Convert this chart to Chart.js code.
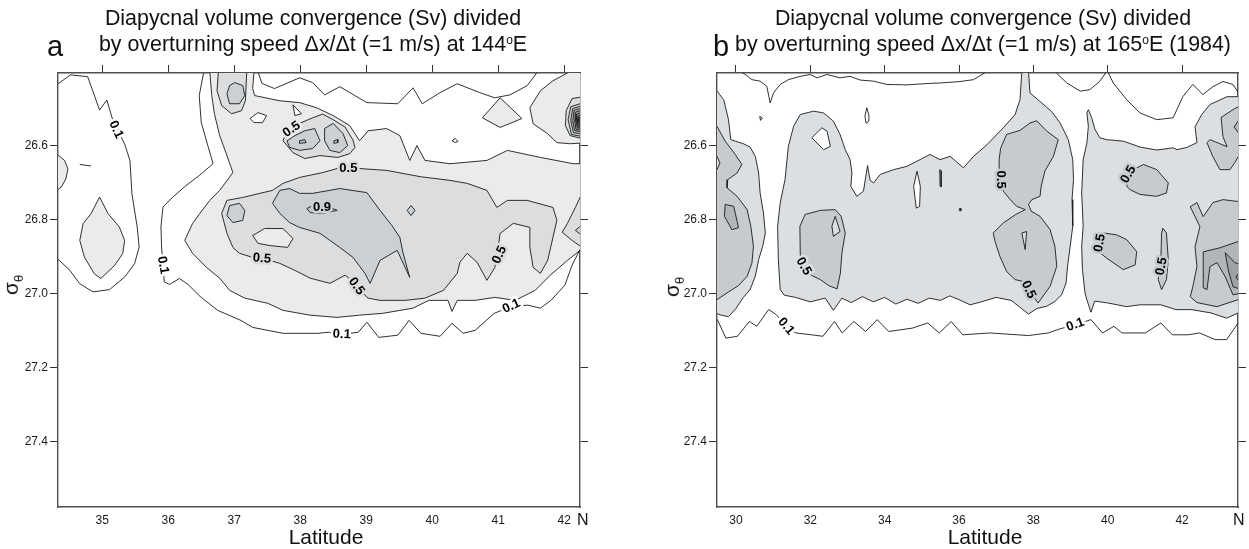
<!DOCTYPE html>
<html>
<head>
<meta charset="utf-8">
<script src="https://cdn.jsdelivr.net/npm/chart.js@4.4.1/dist/chart.umd.min.js"></script>
<style>
  body { margin: 0; width: 1249px; height: 549px; position: relative; overflow: hidden; background: #fff;
         font-family: "Liberation Sans", Arial, sans-serif; color: #111; }
  canvas { position: absolute; top: 0; }
  #chartA { left: 0; }
  #chartB { left: 640px; }
  .title { position: absolute; top: 5px; font-size: 21.4px; line-height: 26px; text-align: center; white-space: nowrap; }
  .title sup { font-size: 12px; vertical-align: 7px; line-height: 0; }
  .panel { position: absolute; top: 29px; font-size: 29px; line-height: 34px; }
  .xlab { position: absolute; top: 524px; width: 200px; text-align: center; font-size: 21px; line-height: 26px; }
  .north { position: absolute; top: 510px; font-size: 16px; line-height: 20px; }
  .ylab { position: absolute; font-size: 21px; line-height: 24px; transform: translate(-50%, -50%) rotate(-90deg); white-space: nowrap; }
  .ylab sub { font-size: 13px; }
</style>
</head>
<body>
<canvas id="chartA" width="624" height="549"></canvas>
<canvas id="chartB" width="609" height="549"></canvas>

<div class="title" style="left:33px;width:560px">Diapycnal volume convergence (Sv) divided<br>by overturning speed &Delta;x/&Delta;t (=1 m/s) at 144<sup>o</sup>E</div>
<div class="title" style="left:693px;width:580px">Diapycnal volume convergence (Sv) divided<br>by overturning speed &Delta;x/&Delta;t (=1 m/s) at 165<sup>o</sup>E (1984)</div>
<div class="panel" style="left:47px">a</div>
<div class="panel" style="left:713px">b</div>
<div class="xlab" style="left:226px">Latitude</div>
<div class="xlab" style="left:885px">Latitude</div>
<div class="north" style="left:577px">N</div>
<div class="north" style="left:1233px">N</div>
<div class="ylab" style="left:15px;top:285px">&sigma;<sub>&theta;</sub></div>
<div class="ylab" style="left:676px;top:287px">&sigma;<sub>&theta;</sub></div>

<script>
// ---------------------------------------------------------------- axes ----------------------------------------------------------------
const sigmaTicks = [26.6, 26.8, 27.0, 27.2, 27.4];
const sigmaRange = [26.404, 27.576];
const latTicksA = [35, 36, 37, 38, 39, 40, 41, 42];
const latRangeA = [34.33, 42.24];
const latTicksB = [30, 32, 34, 36, 38, 40, 42];
const latRangeB = [29.49, 43.505];

// ---------------------------------------------------------- 144E contours (lat, sigma) ----------------------------------------------------------
const a03Main = [[36.63,26.400],[36.66,26.465],[36.70,26.514],[36.78,26.573],[36.89,26.627],[36.98,26.673],[36.78,26.721],[36.63,26.748],[36.48,26.783],[36.37,26.810],[36.25,26.856],[36.37,26.891],[36.58,26.929],[36.78,26.958],[36.93,26.991],[37.16,27.012],[37.51,27.026],[37.74,27.045],[38.15,27.058],[38.56,27.064],[38.90,27.058],[39.25,27.053],[39.71,27.039],[39.95,27.018],[40.24,27.018],[40.30,27.048],[40.38,27.018],[40.65,27.018],[40.95,27.010],[41.26,27.018],[41.56,26.991],[41.79,26.950],[42.05,26.910],[42.24,26.883],[42.40,26.883],[42.40,26.649],[42.14,26.649],[41.64,26.632],[41.14,26.613],[40.83,26.640],[40.27,26.649],[39.89,26.640],[39.77,26.600],[39.66,26.640],[39.51,26.573],[39.31,26.554],[39.03,26.560],[38.90,26.587],[38.75,26.546],[38.50,26.519],[38.25,26.498],[37.99,26.484],[37.69,26.479],[37.31,26.465],[37.28,26.446],[37.30,26.400]];
const a03Lens = [[34.96,26.739],[35.09,26.784],[35.26,26.820],[35.34,26.856],[35.31,26.892],[35.19,26.923],[34.98,26.959],[34.88,26.946],[34.73,26.901],[34.66,26.856],[34.71,26.811],[34.83,26.784]];
const a03Bump = [[34.20,26.627],[34.34,26.627],[34.43,26.640],[34.48,26.663],[34.45,26.690],[34.38,26.712],[34.34,26.717],[34.20,26.717]];
const a03Diamond = [[40.76,26.525],[41.03,26.471],[41.36,26.527],[41.03,26.551]];
const a03Bulge = [[42.40,26.400],[42.09,26.400],[41.83,26.425],[41.64,26.452],[41.48,26.498],[41.53,26.541],[41.75,26.568],[41.89,26.592],[42.09,26.595],[42.40,26.592]];
const a03Pocket = [[37.28,26.843],[37.46,26.824],[37.74,26.824],[37.89,26.851],[37.81,26.875],[37.54,26.870],[37.36,26.864]];
const aHole1 = [[37.24,26.527],[37.36,26.511],[37.49,26.519],[37.43,26.538],[37.30,26.538]];
const aHole2 = [[37.89,26.490],[37.92,26.519],[38.02,26.514]];
const aHole3 = [[40.30,26.587],[40.35,26.581],[40.39,26.589],[40.35,26.592]];

const a05Main = [[36.89,26.748],[37.13,26.740],[37.39,26.729],[37.58,26.721],[37.74,26.702],[37.99,26.686],[38.34,26.673],[38.56,26.662],[38.90,26.662],[39.31,26.667],[39.82,26.684],[40.27,26.694],[40.53,26.702],[40.83,26.721],[40.98,26.767],[41.14,26.748],[41.44,26.748],[41.83,26.767],[41.89,26.802],[41.83,26.848],[41.75,26.910],[41.64,26.945],[41.53,26.929],[41.48,26.875],[41.48,26.821],[41.23,26.810],[41.03,26.837],[41.00,26.875],[40.95,26.929],[40.83,26.964],[40.68,26.915],[40.53,26.891],[40.42,26.915],[40.38,26.945],[40.17,26.991],[39.89,27.012],[39.59,27.018],[39.21,27.018],[39.03,27.012],[38.90,26.991],[38.78,26.964],[38.68,26.950],[38.45,26.972],[38.15,26.958],[37.92,26.937],[37.69,26.918],[37.54,26.910],[37.28,26.902],[37.08,26.891],[36.98,26.875],[36.89,26.837],[36.81,26.783]];
const a05Tongue = [[36.76,26.400],[36.74,26.452],[36.81,26.492],[36.96,26.514],[37.11,26.506],[37.17,26.479],[37.19,26.400]];
const a05Loops = [[37.74,26.587],[37.80,26.560],[37.99,26.540],[38.19,26.525],[38.34,26.515],[38.50,26.530],[38.68,26.550],[38.80,26.585],[38.83,26.605],[38.75,26.622],[38.57,26.632],[38.30,26.627],[38.07,26.635],[37.89,26.619]];
const a05RightMid = [[42.40,26.729],[42.27,26.729],[42.17,26.767],[42.05,26.810],[41.97,26.834],[42.12,26.856],[42.27,26.875],[42.40,26.875]];
const a05Hatch = [[42.40,26.465],[42.12,26.473],[42.03,26.506],[42.02,26.546],[42.09,26.573],[42.40,26.587]];

const a07Main = [[37.58,26.756],[37.69,26.721],[37.84,26.716],[37.99,26.729],[38.19,26.729],[38.60,26.716],[39.01,26.727],[39.21,26.775],[39.39,26.816],[39.51,26.848],[39.56,26.891],[39.66,26.956],[39.47,26.883],[39.21,26.910],[39.06,26.972],[38.98,26.945],[38.80,26.902],[38.60,26.875],[38.30,26.837],[37.99,26.821],[37.84,26.808],[37.69,26.783]];
const a07Small = [[36.93,26.762],[37.08,26.756],[37.16,26.775],[37.13,26.802],[36.98,26.808],[36.89,26.789]];
const a07Diamond = [[39.62,26.775],[39.68,26.762],[39.74,26.775],[39.68,26.789]];
const a07Tongue = [[37.01,26.430],[37.13,26.438],[37.16,26.465],[37.08,26.487],[36.93,26.487],[36.89,26.460],[36.93,26.438]];
const a07LoopL = [[37.80,26.587],[37.92,26.573],[38.07,26.560],[38.22,26.554],[38.30,26.587],[38.19,26.608],[37.99,26.613],[37.84,26.605]];
const a07LoopR = [[38.37,26.554],[38.50,26.540],[38.65,26.568],[38.72,26.600],[38.60,26.619],[38.45,26.613],[38.37,26.587]];
const a07RightMid = [[42.40,26.794],[42.17,26.829],[42.40,26.861]];
const aHatch07 = [[42.40,26.478],[42.10,26.495],[42.06,26.530],[42.11,26.570],[42.40,26.580]];

const a09Core = [[38.10,26.770],[38.19,26.762],[38.45,26.767],[38.56,26.775],[38.34,26.783],[38.15,26.781]];
const a09TinyL = [[37.99,26.587],[38.07,26.584],[38.09,26.592],[37.99,26.594]];
const a09TinyR = [[38.51,26.587],[38.57,26.584],[38.57,26.592],[38.51,26.594]];
const aHatch09 = [[42.40,26.485],[42.13,26.500],[42.10,26.532],[42.14,26.565],[42.40,26.573]];
const aHatch11 = [[42.40,26.491],[42.15,26.505],[42.13,26.533],[42.16,26.560],[42.40,26.567]];
const aHatch13 = [[42.40,26.497],[42.17,26.510],[42.16,26.534],[42.18,26.556],[42.40,26.561]];
const aHatch15 = [[42.40,26.503],[42.19,26.515],[42.18,26.535],[42.20,26.552],[42.40,26.556]];
const aHatch17 = [[42.40,26.509],[42.21,26.520],[42.20,26.536],[42.21,26.548],[42.40,26.551]];
const aHatch19 = [[42.40,26.515],[42.22,26.525],[42.22,26.537],[42.23,26.545],[42.40,26.547]];

const a01Left = [[34.28,26.436],[34.34,26.432],[34.52,26.409],[34.78,26.414],[34.96,26.504],[35.07,26.477],[35.16,26.531],[35.34,26.596],[35.42,26.640],[35.45,26.730],[35.53,26.820],[35.56,26.874],[35.49,26.919],[35.34,26.955],[35.11,26.989],[34.86,26.995],[34.66,26.973],[34.51,26.937],[34.35,26.910],[34.28,26.904]];
const a01Mid = [[36.54,26.400],[36.47,26.465],[36.50,26.537],[36.60,26.600],[36.68,26.649],[36.47,26.681],[36.27,26.708],[36.07,26.739],[35.92,26.766],[35.89,26.820],[35.90,26.874],[35.92,26.923],[35.94,26.968],[36.02,26.975],[36.17,26.959],[36.30,26.975],[36.48,27.007],[36.75,27.045],[37.10,27.072],[37.28,27.091],[37.74,27.107],[38.27,27.107],[38.43,27.104],[38.63,27.110],[38.88,27.104],[39.01,27.077],[39.19,27.118],[39.48,27.112],[39.65,27.072],[39.83,27.107],[40.12,27.115],[40.30,27.080],[40.47,27.107],[40.65,27.099],[40.94,27.053],[41.20,27.034],[41.45,27.031],[41.64,27.039],[41.80,27.018],[42.01,26.977],[42.12,26.923],[42.27,26.870]];
const a01Upper = [[37.36,26.400],[37.42,26.432],[37.61,26.446],[37.99,26.417],[38.19,26.430],[38.37,26.463],[38.60,26.441],[39.01,26.484],[39.48,26.487],[39.71,26.444],[39.85,26.487],[40.12,26.457],[40.38,26.433],[40.72,26.457],[40.95,26.471],[41.18,26.463],[41.44,26.438],[41.60,26.400]];
const a01Dash = [[34.66,26.651],[34.83,26.655]];

const labelTextA = ['0.1', '0.1', '0.1', '0.1', '0.5', '0.5', '0.5', '0.5', '0.5', '0.9'];
const labelLatA = [35.21, 35.92, 38.63, 41.20, 37.87, 38.73, 37.42, 38.85, 41.02, 38.33];
const labelSigA = [26.557, 26.923, 27.110, 27.034, 26.556, 26.662, 26.905, 26.980, 26.895, 26.768];
const labelAngleA = [65, 80, 3, -25, -35, 0, 5, 55, -65, 0];
const labelUnderA = [0.1, 0.1, 0.1, 0.1, 0.3, 0.5, 0.5, 0.5, 0.5, 0.7];

// ---------------------------------------------------------- 165E (1984) contours (lat, sigma) ----------------------------------------------------------
const b03Left = [[29.40,26.453],[29.49,26.453],[29.67,26.476],[29.80,26.530],[29.86,26.584],[30.20,26.595],[30.38,26.604],[30.52,26.629],[30.61,26.674],[30.65,26.728],[30.74,26.782],[30.79,26.836],[30.72,26.872],[30.61,26.908],[30.52,26.953],[30.38,26.989],[30.20,27.010],[30.00,27.040],[29.80,27.062],[29.60,27.058],[29.40,27.050]];
const b03Main = [[31.19,26.989],[31.14,26.908],[31.12,26.818],[31.19,26.755],[31.32,26.692],[31.41,26.602],[31.55,26.548],[31.73,26.516],[32.09,26.507],[32.36,26.512],[32.62,26.534],[32.80,26.570],[32.94,26.611],[33.07,26.638],[33.12,26.674],[33.09,26.710],[33.25,26.737],[33.43,26.723],[33.54,26.654],[33.61,26.694],[33.70,26.701],[33.88,26.678],[34.24,26.665],[34.60,26.656],[34.95,26.638],[35.22,26.624],[35.49,26.638],[35.76,26.629],[36.12,26.660],[36.39,26.629],[36.75,26.598],[37.19,26.552],[37.51,26.516],[37.64,26.476],[37.69,26.400],[37.87,26.400],[37.91,26.458],[38.18,26.481],[38.49,26.508],[38.72,26.539],[38.94,26.584],[39.06,26.638],[39.08,26.692],[39.04,26.746],[39.06,26.818],[38.99,26.872],[38.92,26.926],[38.88,26.971],[38.76,27.003],[38.58,27.021],[38.36,27.034],[38.09,27.040],[37.87,27.055],[37.62,27.035],[37.40,27.018],[37.00,27.010],[36.60,27.022],[36.30,27.030],[36.00,27.016],[35.75,27.006],[35.50,27.018],[35.20,27.012],[34.90,27.026],[34.60,27.015],[34.30,27.028],[34.00,27.010],[33.70,27.022],[33.40,27.008],[33.10,27.024],[32.85,27.012],[32.62,27.045],[32.40,27.012],[32.00,27.022],[31.60,27.010],[31.30,27.004]];
const b03Right = [[39.48,26.503],[39.57,26.525],[39.66,26.557],[39.79,26.579],[39.97,26.584],[40.42,26.588],[40.87,26.604],[41.32,26.612],[41.76,26.606],[41.86,26.611],[42.13,26.605],[42.40,26.592],[42.35,26.549],[42.53,26.516],[42.75,26.489],[43.21,26.468],[43.51,26.468],[43.60,26.468],[43.60,27.060],[43.51,27.052],[43.20,27.066],[42.78,27.052],[42.26,27.043],[41.84,27.043],[41.43,27.030],[40.87,27.030],[40.51,27.035],[40.00,27.025],[39.65,27.020],[39.55,27.050],[39.45,27.020],[39.39,26.998],[39.32,26.935],[39.30,26.872],[39.34,26.818],[39.30,26.728],[39.34,26.638],[39.44,26.593],[39.48,26.548],[39.44,26.512]];
const b03LeftPocket = [[29.40,26.625],[29.49,26.629],[29.57,26.647],[29.49,26.665],[29.40,26.667]];
const b03CLHole = [[32.67,26.791],[32.80,26.832],[32.62,26.845],[32.58,26.818]];
const b03CRSliver = [[37.69,26.836],[37.82,26.832],[37.78,26.881]];
const bHole1 = [[32.04,26.579],[32.31,26.552],[32.45,26.561],[32.54,26.602],[32.36,26.611]];
const bLens = [[34.87,26.669],[34.96,26.710],[34.94,26.764],[34.85,26.769],[34.78,26.710]];
const bSlit = [[35.48,26.665],[35.52,26.668],[35.52,26.712],[35.49,26.708]];
const bTiny = [[36.01,26.770],[36.05,26.770],[36.05,26.776],[36.01,26.776]];
const bDrop = [[33.52,26.498],[33.58,26.520],[33.57,26.535],[33.50,26.540],[33.47,26.520]];
const bTri = [[30.64,26.521],[30.71,26.526],[30.66,26.532]];

const b05Left = [[29.40,26.548],[29.49,26.548],[29.71,26.588],[29.98,26.624],[30.16,26.651],[30.03,26.674],[29.78,26.692],[29.76,26.714],[30.03,26.737],[30.30,26.773],[30.40,26.818],[30.47,26.872],[30.43,26.917],[30.30,26.953],[30.07,26.978],[29.76,26.998],[29.49,27.016],[29.40,27.016]];
const b05CL = [[31.73,26.895],[31.72,26.818],[31.86,26.786],[32.27,26.775],[32.67,26.773],[32.83,26.791],[32.94,26.836],[32.85,26.890],[32.81,26.944],[32.72,26.987],[32.49,26.978],[32.27,26.962],[32.04,26.951],[31.82,26.931]];
const b05CR = [[37.12,26.607],[37.28,26.570],[37.64,26.559],[37.91,26.539],[38.09,26.533],[38.36,26.561],[38.67,26.584],[38.54,26.629],[38.31,26.669],[38.21,26.710],[38.18,26.737],[37.96,26.746],[37.87,26.759],[37.94,26.777],[38.18,26.791],[38.45,26.827],[38.58,26.872],[38.63,26.926],[38.45,26.980],[38.13,27.025],[37.96,27.003],[37.73,26.967],[37.51,26.962],[37.28,26.940],[37.10,26.899],[36.97,26.859],[36.92,26.836],[37.19,26.809],[37.51,26.787],[37.78,26.773],[37.55,26.764],[37.38,26.746],[37.19,26.723],[37.10,26.678],[37.08,26.638]];
const b05R1 = [[40.51,26.710],[40.69,26.665],[40.96,26.651],[41.32,26.665],[41.63,26.701],[41.58,26.728],[41.32,26.737],[40.87,26.732],[40.60,26.719]];
const b05R2 = [[39.89,26.836],[40.24,26.841],[40.51,26.854],[40.78,26.886],[40.74,26.922],[40.42,26.935],[39.97,26.904],[39.75,26.886]];
const b05R3 = [[41.48,26.823],[41.58,26.836],[41.63,26.908],[41.58,26.962],[41.45,26.989],[41.36,26.962],[41.43,26.908],[41.45,26.836]];
const b05EdgeTop = [[43.60,26.495],[43.51,26.495],[43.37,26.503],[43.05,26.524],[43.10,26.576],[43.21,26.603],[42.75,26.584],[42.67,26.592],[42.83,26.630],[43.02,26.665],[43.29,26.665],[43.42,26.646],[43.51,26.630],[43.60,26.630]];
const b05EdgeLow = [[42.22,26.765],[42.40,26.754],[42.57,26.792],[42.83,26.754],[43.10,26.746],[43.51,26.751],[43.60,26.751],[43.60,27.016],[43.51,27.016],[42.94,27.035],[42.40,27.024],[42.22,27.008],[42.29,26.981],[42.40,26.927],[42.35,26.873],[42.48,26.819],[42.35,26.792]];
const b07Left = [[29.71,26.759],[29.94,26.764],[30.07,26.822],[29.89,26.827],[29.69,26.791]];
const b07EdgeTop = [[43.60,26.520],[43.40,26.550],[43.60,26.576]];
const b07EdgeLow = [[42.57,26.887],[43.02,26.876],[43.51,26.859],[43.60,26.859],[43.60,26.998],[43.37,27.003],[43.16,26.954],[42.94,26.916],[42.75,26.927],[42.67,26.989],[42.57,26.984]];
const b09EdgeLow = [[43.16,26.889],[43.42,26.916],[43.60,26.922],[43.60,26.989],[43.37,26.981],[43.24,26.935]];
const b11EdgeLow = [[43.60,26.935],[43.45,26.955],[43.60,26.975]];

const b01Top1 = [[30.12,26.400],[30.25,26.408],[30.43,26.422],[30.65,26.426],[30.83,26.440],[30.92,26.485],[31.01,26.458],[31.19,26.435],[31.41,26.422],[31.73,26.413],[32.00,26.408],[32.18,26.417],[32.45,26.408],[32.80,26.417],[33.07,26.413],[33.34,26.423],[33.70,26.426],[34.06,26.435],[34.60,26.436],[35.22,26.432],[35.49,26.431],[36.03,26.427],[36.39,26.422],[36.75,26.400]];
const b01Top2 = [[38.58,26.400],[38.90,26.431],[39.26,26.453],[39.52,26.449],[39.79,26.426],[39.97,26.400]];
const b01Top3 = [[40.00,26.400],[40.15,26.431],[40.51,26.476],[40.87,26.512],[41.32,26.530],[41.76,26.525],[41.86,26.503],[42.02,26.468],[42.29,26.435],[42.56,26.462],[42.83,26.441],[43.10,26.427],[43.37,26.435],[43.60,26.470]];
const b01Bottom = [[29.40,27.068],[29.50,27.070],[29.73,27.120],[30.04,27.115],[30.36,27.075],[30.56,27.088],[30.88,27.043],[31.09,27.057],[31.35,27.088],[31.61,27.106],[32.03,27.111],[32.34,27.115],[32.65,27.075],[32.86,27.106],[33.17,27.075],[33.49,27.102],[33.80,27.070],[34.11,27.102],[34.74,27.093],[35.16,27.079],[35.47,27.106],[35.79,27.075],[36.10,27.111],[36.83,27.106],[37.87,27.113],[38.40,27.106],[38.71,27.095],[39.13,27.084],[39.55,27.070],[39.86,27.106],[40.17,27.088],[40.38,27.106],[41.01,27.106],[41.43,27.079],[41.74,27.111],[42.16,27.111],[42.47,27.106],[42.89,27.124],[43.20,27.124],[43.51,27.079],[43.60,27.070]];

const labelTextB = ['0.1', '0.1', '0.5', '0.5', '0.5', '0.5', '0.5', '0.5'];
const labelLatB = [31.35, 39.13, 31.82, 37.12, 37.87, 40.56, 39.79, 41.45];
const labelSigB = [27.088, 27.084, 26.926, 26.692, 26.989, 26.678, 26.863, 26.926];
const labelAngleB = [50, -20, 60, 90, 65, -60, -80, -80];
const labelUnderB = [0.1, 0.1, 0.3, 0.5, 0.5, 0.5, 0.5, 0.5];

// ---------------------------------------------------------------- shading ----------------------------------------------------------------
const FONT = '"Liberation Sans", Arial, sans-serif';
const shadeA = {0.1: '#ffffff', 0.3: '#e9ebec', 0.5: '#dbdddf', 0.7: '#cdd0d2', 0.9: '#bfc2c4', 1.1: '#aeb1b3', 1.3: '#9c9fa1', 1.5: '#8a8d8f', 1.7: '#76797b', 1.9: '#626567'};
const shadeB = {0.1: '#ffffff', 0.3: '#dcdfe1', 0.5: '#c8cbce', 0.7: '#b3b6b9', 0.9: '#9fa2a5', 1.1: '#8b8e91'};

const shapesA = [
    {level: 0.3, pts: a03Main}, {level: 0.3, pts: a03Lens}, {level: 0.3, pts: a03Bump},
    {level: 0.3, pts: a03Diamond}, {level: 0.3, pts: a03Bulge},
    {level: 0.1, pts: aHole1}, {level: 0.1, pts: aHole2}, {level: 0.1, pts: aHole3},
    {level: 0.5, pts: a05Main}, {level: 0.3, pts: a03Pocket}, {level: 0.5, pts: a05Tongue},
    {level: 0.5, pts: a05Loops}, {level: 0.5, pts: a05RightMid}, {level: 0.5, pts: a05Hatch},
    {level: 0.7, pts: a07Main}, {level: 0.7, pts: a07Small}, {level: 0.7, pts: a07Diamond},
    {level: 0.7, pts: a07Tongue}, {level: 0.7, pts: a07LoopL}, {level: 0.7, pts: a07LoopR},
    {level: 0.7, pts: a07RightMid}, {level: 0.7, pts: aHatch07},
    {level: 0.9, pts: a09Core}, {level: 0.9, pts: a09TinyL}, {level: 0.9, pts: a09TinyR}, {level: 0.9, pts: aHatch09},
    {level: 1.1, pts: aHatch11}, {level: 1.3, pts: aHatch13}, {level: 1.5, pts: aHatch15},
    {level: 1.7, pts: aHatch17}, {level: 1.9, pts: aHatch19},
    {line: true, pts: a01Left}, {line: true, pts: a01Mid}, {line: true, pts: a01Upper}, {line: true, pts: a01Dash}
];

const shapesB = [
    {level: 0.3, pts: b03Left}, {level: 0.3, pts: b03Main}, {level: 0.3, pts: b03Right},
    {level: 0.1, pts: bHole1}, {level: 0.1, pts: bLens}, {level: 0.1, pts: bSlit}, {level: 0.1, pts: bTiny},
    {level: 0.1, pts: bDrop}, {level: 0.1, pts: bTri},
    {level: 0.5, pts: b05Left}, {level: 0.3, pts: b03LeftPocket}, {level: 0.5, pts: b05CL}, {level: 0.3, pts: b03CLHole},
    {level: 0.5, pts: b05CR}, {level: 0.3, pts: b03CRSliver},
    {level: 0.5, pts: b05R1}, {level: 0.5, pts: b05R2}, {level: 0.5, pts: b05R3},
    {level: 0.5, pts: b05EdgeTop}, {level: 0.5, pts: b05EdgeLow},
    {level: 0.7, pts: b07Left}, {level: 0.7, pts: b07EdgeTop}, {level: 0.7, pts: b07EdgeLow},
    {level: 0.9, pts: b09EdgeLow}, {level: 1.1, pts: b11EdgeLow},
    {line: true, pts: b01Top1}, {line: true, pts: b01Top2}, {line: true, pts: b01Top3}, {line: true, pts: b01Bottom}
];

function contourDatasets(shapes, shade) {
    return shapes.map((s, i) => {
        const closed = !s.line;
        const pts = s.pts.map(([x, y]) => ({x: x, y: y}));
        if (closed) pts.push({x: s.pts[0][0], y: s.pts[0][1]});
        return {
            data: pts,
            showLine: true,
            tension: 0,
            pointRadius: 0,
            borderColor: '#1a1a1a',
            borderWidth: 0.9,
            backgroundColor: closed ? shade[s.level] : 'transparent',
            fill: closed ? 'shape' : false,
            order: shapes.length - i,
            xAxisID: 'x',
            yAxisID: 'y'
        };
    });
}

// contour values written along the lines, with a gap cut in the line behind them
function contourLabelPlugin(texts, lats, sigs, angles, under, shade) {
    return {
        id: 'contourLabels',
        afterDatasetsDraw(chart) {
            const ctx = chart.ctx;
            const xs = chart.scales.x, ys = chart.scales.y;
            ctx.save();
            ctx.beginPath();
            ctx.rect(chart.chartArea.left, chart.chartArea.top, chart.chartArea.width, chart.chartArea.height);
            ctx.clip();
            texts.forEach((t, i) => {
                ctx.save();
                ctx.translate(xs.getPixelForValue(lats[i]), ys.getPixelForValue(sigs[i]));
                ctx.rotate(angles[i] * Math.PI / 180);
                ctx.font = 'bold 13px ' + FONT;
                ctx.textAlign = 'center';
                ctx.textBaseline = 'middle';
                ctx.lineWidth = 5;
                ctx.lineJoin = 'round';
                ctx.strokeStyle = shade[under[i]];
                ctx.strokeText(t, 0, 0);
                ctx.fillStyle = '#000';
                ctx.fillText(t, 0, 0);
                ctx.restore();
            });
            ctx.restore();
        }
    };
}

function frameScales(latRange, latTicks, yWidth) {
    const setTicks = vals => scale => { scale.ticks = vals.map(v => ({value: v})); };
    const border = {display: true, color: '#4f4f4f', width: 1.4};
    const tickFont = {family: FONT, size: 12};
    return {
        x: {
            type: 'linear', position: 'bottom', min: latRange[0], max: latRange[1], z: 1,
            afterBuildTicks: setTicks(latTicks),
            ticks: {font: tickFont, color: '#1a1a1a', padding: 6, maxRotation: 0, autoSkip: false},
            grid: {drawOnChartArea: false, drawTicks: false},
            border: border,
            afterFit: s => { s.height = 42; }
        },
        xTop: {
            type: 'linear', position: 'top', min: latRange[0], max: latRange[1], z: 1,
            afterBuildTicks: setTicks(latTicks),
            ticks: {display: false},
            grid: {drawOnChartArea: false, tickLength: 8, color: '#333'},
            border: border,
            afterFit: s => { s.height = 8; }
        },
        y: {
            type: 'linear', position: 'left', reverse: true, min: sigmaRange[0], max: sigmaRange[1], z: 1,
            afterBuildTicks: setTicks(sigmaTicks),
            ticks: {font: tickFont, color: '#1a1a1a', padding: 2, callback: v => v.toFixed(1)},
            grid: {drawOnChartArea: false, tickLength: 8, color: '#333'},
            border: border,
            afterFit: s => { s.width = yWidth; }
        },
        yRight: {
            type: 'linear', position: 'right', reverse: true, min: sigmaRange[0], max: sigmaRange[1], z: 1,
            afterBuildTicks: setTicks(sigmaTicks),
            ticks: {display: false},
            grid: {drawOnChartArea: false, tickLength: 8, color: '#333'},
            border: border,
            afterFit: s => { s.width = 8; }
        }
    };
}

function drawSection(canvasId, shapes, shade, latRange, latTicks, yWidth, padRight, labelPlugin) {
    return new Chart(document.getElementById(canvasId).getContext('2d'), {
        type: 'scatter',
        data: {datasets: contourDatasets(shapes, shade)},
        options: {
            responsive: false,
            animation: false,
            devicePixelRatio: 1,
            events: [],
            layout: {padding: {top: 65, left: 0, right: padRight, bottom: 0}},
            scales: frameScales(latRange, latTicks, yWidth),
            plugins: {legend: {display: false}, tooltip: {enabled: false}}
        },
        plugins: [labelPlugin]
    });
}

drawSection('chartA', shapesA, shadeA, latRangeA, latTicksA, 58, 36,
    contourLabelPlugin(labelTextA, labelLatA, labelSigA, labelAngleA, labelUnderA, shadeA));
drawSection('chartB', shapesB, shadeB, latRangeB, latTicksB, 77, 3,
    contourLabelPlugin(labelTextB, labelLatB, labelSigB, labelAngleB, labelUnderB, shadeB));
</script>
</body>
</html>
